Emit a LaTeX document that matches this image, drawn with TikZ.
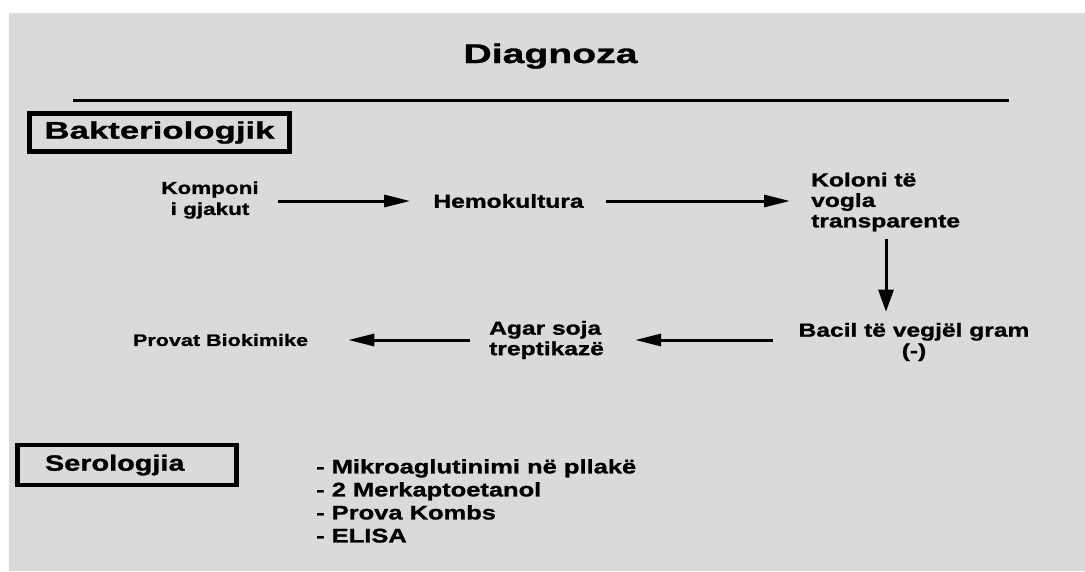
\documentclass[tikz,border=0pt]{standalone}
\usepackage{fontspec}
\setmainfont{Liberation Sans}[FakeStretch=1.3, BoldFeatures={FakeBold=1.2}]
\newfontfamily\widefont{Liberation Sans}[FakeStretch=1.45, BoldFeatures={FakeBold=1.2}]
\usetikzlibrary{arrows.meta}
\definecolor{slidebg}{RGB}{218,218,218}
\tikzset{
  txt/.style={inner sep=0pt, font=\bfseries\fontsize{18.9}{20.5}\selectfont, text=black},
  arr/.style={line width=3pt, -{Triangle[length=26pt,width=12pt]}},
  darr/.style={line width=3pt, -{Triangle[length=22pt,width=15pt]}},
  headbox/.style={draw=black, line width=4.6pt, inner sep=0pt}
}
\begin{document}
\begin{tikzpicture}[x=1pt,y=-1pt]
\useasboundingbox (0,0) rectangle (1085,571);
\fill[white] (0,0) rectangle (1085,571);
\fill[slidebg] (9,13) rectangle (1085,571);
% title
\node[inner sep=0pt, anchor=base, font=\widefont\bfseries\fontsize{27}{30}\selectfont] (title) at (550.5,63) {Diagnoza};
\coordinate (ruleL) at (73,100);
\coordinate (ruleR) at (1009,100);
\draw[line width=3pt] (ruleL) -- (ruleR);
% section boxes
\node[headbox, minimum width=260pt, minimum height=38.5pt, font=\widefont\bfseries\fontsize{24}{26}\selectfont] (bakt) at (159.5,132.5) {Bakteriologjik};
\node[headbox, minimum width=219pt, minimum height=40pt, text width=164pt, align=left, inner xsep=27.5pt, font=\bfseries\fontsize{22.2}{24}\selectfont] (sero) at (127,465) {Serologjia};
% flow
\node[txt, align=center, font=\bfseries\fontsize{17.3}{21}\selectfont] (komp) at (210,200) {Komponi\\i gjakut};
\node[txt] (hemo) at (508.5,201) {Hemokultura};
\node[txt, align=left, anchor=west] (kol) at (811,202) {Koloni të\\vogla\\transparente};
\node[txt, align=center] (bac) at (914,342) {Bacil të vegjël gram\\(-)};
\node[txt, align=left, anchor=west] (agar) at (489,340) {Agar soja\\treptikazë};
\node[txt, font=\bfseries\fontsize{16.6}{20}\selectfont] (prov) at (220.5,340) {Provat Biokimike};
\node[txt, align=left, anchor=north west, font=\bfseries\fontsize{19.6}{23}\selectfont] (list) at (316,459) {- Mikroaglutinimi në pllakë\\- 2 Merkaptoetanol\\- Prova Kombs\\- ELISA};
% connectors
\coordinate (dx) at (886,0);
\draw[arr, shorten <=19.5pt, shorten >=23pt] (komp.east |- hemo.west) -- (hemo.west);
\draw[arr, shorten <=22pt, shorten >=21pt] (hemo.east) -- (hemo.east -| kol.west);
\draw[darr, shorten <=7pt, shorten >=11pt] (kol.south -| dx) -- (bac.north -| dx);
\draw[arr, shorten <=25pt, shorten >=31pt] (bac.west |- agar.east) -- (agar.east);
\draw[arr, shorten <=19pt, shorten >=40pt] (agar.west) -- (agar.west -| prov.east);
\end{tikzpicture}
\end{document}
